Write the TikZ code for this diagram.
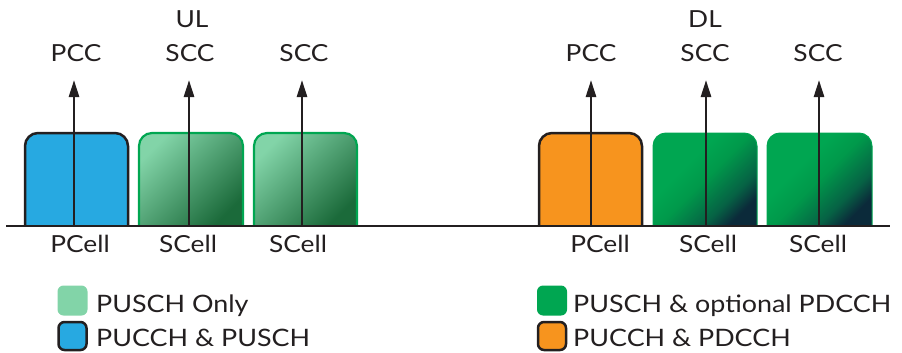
\documentclass[tikz,border=0pt]{standalone}
\usepackage{fontspec}
\setmainfont{Lato}[FakeStretch=1.12]
\usetikzlibrary{arrows.meta}
\definecolor{inkgray}{HTML}{231F20}
\definecolor{pccblue}{HTML}{27A9E1}
\definecolor{pccorange}{HTML}{F7941E}
\definecolor{sccgreen}{HTML}{00A651}
\definecolor{ullight}{HTML}{82D4A8}
\definecolor{uldark}{HTML}{1B6A3A}
\definecolor{dlnavy}{HTML}{0B2A3A}
\colorlet{dlmid}{sccgreen!45!dlnavy}
\colorlet{dlgreen}{sccgreen!92!black}
\pgfdeclareverticalshading{dlshade}{100bp}{color(0bp)=(dlnavy); color(25bp)=(dlnavy);
  color(34bp)=(dlmid); color(50bp)=(dlgreen); color(62bp)=(sccgreen); color(100bp)=(sccgreen)}

\begin{document}
\begin{tikzpicture}[x=1pt,y=-1pt,
  font=\fontsize{23.5}{28}\selectfont, text=inkgray,
  lbl/.style={anchor=base, inner sep=0},
  carrier/.style={inkgray, line width=2.6, -{Triangle[length=17pt,width=10pt]}},
  pcell/.style={draw=inkgray, line width=2.5, rounded corners=13},
  ulcell/.style={draw=sccgreen, line width=2.2, rounded corners=13,
    left color=ullight, right color=uldark, shading angle=45},
  dlcell/.style={draw=sccgreen, line width=1, rounded corners=13,
    shade, shading=dlshade, shading angle=45},
  swatch/.style={minimum size=30pt, inner sep=0, rounded corners=6},
  keytext/.style={anchor=base west, inner sep=0, font=\fontsize{24}{28}\selectfont}]
\useasboundingbox (0,0) rectangle (902,353);

% component carriers
\filldraw[pcell, fill=pccblue] (25,226) |- (76,133) -| (128,226);
\draw[ulcell] (139,226) |- (191,133) -| (243,226);
\draw[ulcell] (254,226) |- (305,133) -| (357,226);
\filldraw[pcell, fill=pccorange] (539,226) |- (590,133) -| (642,226);
\draw[dlcell] (653,226) |- (705,133) -| (757,226);
\draw[dlcell] (767,226) |- (819,133) -| (872,226);

\draw[inkgray, line width=2.6] (6,226) -- (890,226);

\foreach \x/\n in {74/1, 189/2, 302/3, 591/4, 706/5, 819/6} {
  \coordinate (foot\n) at (\x,226);
  \coordinate (tip\n) at (\x,80);
  \draw[carrier] (foot\n) -- (tip\n);
}

\node[lbl] (cc1) at (76,62) {PCC};
\node[lbl] (cc2) at (190,62) {SCC};
\node[lbl] (cc3) at (304,62) {SCC};
\node[lbl] (cc4) at (591,62) {PCC};
\node[lbl] (cc5) at (705,62) {SCC};
\node[lbl] (cc6) at (818,62) {SCC};
\node[lbl] (ul) at (192,28) {UL};
\node[lbl] (dl) at (705,28) {DL};

\node[lbl] (cell1) at (80,252) {PCell};
\node[lbl] (cell2) at (188,252) {SCell};
\node[lbl] (cell3) at (298,252) {SCell};
\node[lbl] (cell4) at (600,252) {PCell};
\node[lbl] (cell5) at (708,252) {SCell};
\node[lbl] (cell6) at (818,252) {SCell};

% legend
\node[swatch, fill=ullight] (key1) at (72.5,300.5) {};
\node[swatch, fill=pccblue, draw=inkgray, line width=2.5, minimum size=28pt] (key2) at (72.5,336) {};
\node[swatch, fill=sccgreen] (key3) at (552,300.5) {};
\node[swatch, fill=pccorange, draw=inkgray, line width=2.5, minimum size=28pt] (key4) at (552,336) {};
\node[keytext] (txt1) at (96,312) {PUSCH Only};
\node[keytext] (txt2) at (96,346) {PUCCH \& PUSCH};
\node[keytext] (txt3) at (573,312) {PUSCH \& optional PDCCH};
\node[keytext] (txt4) at (573,346) {PUCCH \& PDCCH};
\end{tikzpicture}
\end{document}
